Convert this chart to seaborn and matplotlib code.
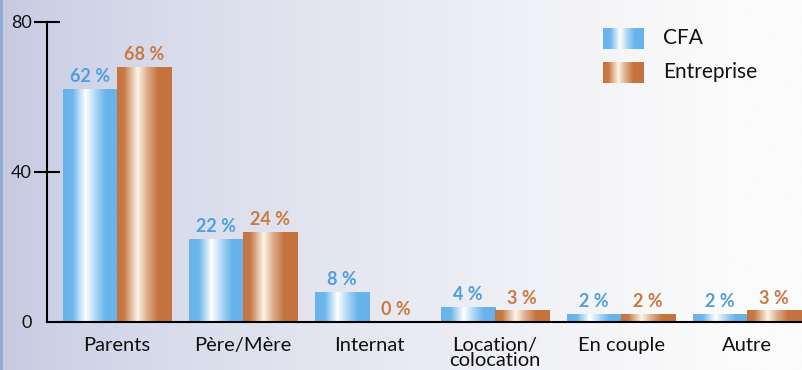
import numpy as np
import pandas as pd
import matplotlib
matplotlib.use("Agg")
import matplotlib.pyplot as plt
import seaborn as sns
from matplotlib.colors import to_rgb
from matplotlib.patches import Rectangle

# ---- data ----
categories = ["Parents", "Père/Mère", "Internat", "Location/\ncolocation", "En couple", "Autre"]
series = ["CFA", "Entreprise"]
cfa = [62, 22, 8, 4, 2, 2]
entreprise = [68, 24, 0, 3, 2, 3]
yticks = [0, 40, 80]

df = pd.DataFrame({
    "cat": categories * 2,
    "serie": [series[0]] * len(categories) + [series[1]] * len(categories),
    "val": cfa + entreprise,
})

BLUE = "#67b3ea"
BROWN = "#c4733e"
BLUE_TXT = "#4f9fdc"
BROWN_TXT = "#c87a42"

sns.set_theme(style="white")
plt.rcParams['font.family'] = ['Lato', 'DejaVu Sans']

W, H = 803, 370
fig = plt.figure(figsize=(W / 100, H / 100), dpi=100)

# background gradient
bg = fig.add_axes([0, 0, 1, 1], zorder=-10)
xs = np.linspace(0, 1, 400)
ys = np.linspace(0, 1, 200)
X, Y = np.meshgrid(xs, ys)
t = np.clip(X / 0.9, 0, 1) ** 0.7
left = np.array(to_rgb("#c4c9e1"))
right = np.array(to_rgb("#fbfbfb"))
img = left[None, None, :] * (1 - t[..., None]) + right[None, None, :] * t[..., None]
bg.imshow(img, extent=[0, 1, 0, 1], aspect="auto", origin="lower")
bg.add_patch(Rectangle((0, 0), 3 / W, 1, color="#93a9d6", lw=0))
bg.set_xlim(0, 1)
bg.set_ylim(0, 1)
bg.axis("off")

ax = fig.add_axes([47 / W, 48 / H, 756 / W, 300 / H])
ax.set_facecolor("none")
sns.barplot(data=df, x="cat", y="val", hue="serie", hue_order=series,
            palette=[BLUE, BROWN], width=0.86, saturation=1, legend=False, ax=ax)


def grad_row(base, light, stops):
    base = np.array(to_rgb(base))
    light = np.array(to_rgb(light))
    tt = np.linspace(0, 1, 200)
    pos = [s[0] for s in stops]
    mix = np.interp(tt, pos, [s[1] for s in stops])
    return base[None, :] * (1 - mix[:, None]) + light[None, :] * mix[:, None]


blue_row = grad_row(BLUE, "#ffffff", [(0, 0), (0.18, 0.05), (0.41, 1), (0.6, 0.45), (0.78, 0.0), (1, 0)])
brown_row = grad_row(BROWN, "#fdf5ea", [(0, 0), (0.13, 0.05), (0.375, 1), (0.55, 0.45), (0.75, 0.0), (1, 0)])

for cont, row, vals, col in zip(ax.containers, [blue_row, brown_row], [cfa, entreprise], [BLUE_TXT, BROWN_TXT]):
    for p in cont.patches:
        x0, w, h = p.get_x(), p.get_width(), p.get_height()
        if h > 0:
            ax.imshow(row[None, :, :], extent=[x0, x0 + w, 0, h], aspect="auto",
                      origin="lower", zorder=2, interpolation="bilinear")
        p.set_facecolor("none")
        p.set_edgecolor("none")
    ax.bar_label(cont, labels=[f"{v} %" for v in vals], padding=3, color=col,
                 fontsize=13, fontweight="bold", zorder=3)

ax.set_xlim(-0.556, len(categories) - 0.556)
ax.set_ylim(0, 80)
ax.set_xlabel("")
ax.set_ylabel("")
ax.set_yticks(yticks)
ax.set_yticklabels([str(v) for v in yticks], fontsize=13, color="#111111")
ax.tick_params(axis="y", direction="inout", length=19, width=1.5, color="black", pad=1.5, left=True)
ax.yaxis.get_major_ticks()[0].tick1line.set_visible(False)
ax.tick_params(axis="x", length=0, pad=11, labelsize=14.5, labelcolor="#111111")
for lab in ax.get_xticklabels():
    lab.set_linespacing(0.85)
    lab.set_verticalalignment("top")
for s in ["top", "right"]:
    ax.spines[s].set_visible(False)
for s in ["left", "bottom"]:
    ax.spines[s].set_color("black")
    ax.spines[s].set_linewidth(1.5)
ax.set_zorder(1)

# legend with gradient swatches
for i, (name, row) in enumerate(zip(series, [blue_row, brown_row])):
    ytop = 28 + i * 34
    la = fig.add_axes([603 / W, (H - ytop - 21) / H, 41 / W, 21 / H])
    la.imshow(row[None, :, :], aspect="auto", interpolation="bilinear")
    la.axis("off")
    fig.text(663 / W, (H - ytop - 10.5) / H, name, fontsize=15, color="#111111",
             va="center", ha="left")

fig.savefig("out.png", dpi=100)
